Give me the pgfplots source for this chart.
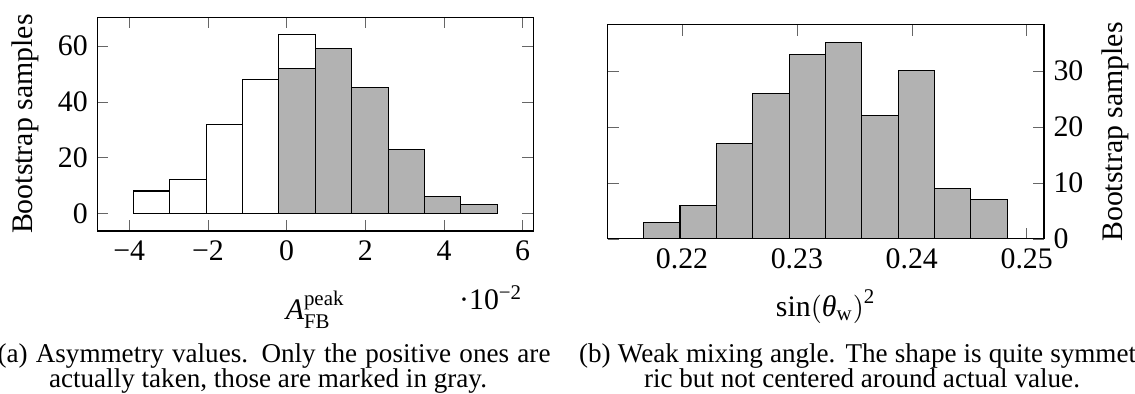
\documentclass[border=0pt]{standalone}
\usepackage{fontspec}
\setmainfont{Liberation Serif}[Scale=1.043]
\usepackage{pgfplots}
\pgfplotsset{compat=1.18}
\def\u{0.384615pt}
\pgfplotsset{
  every axis/.append style={
    font=\fontsize{11}{13}\selectfont,
    /pgf/number format/assume math mode=true,
    major tick style={black!60},
    axis line style={black},
  },
}
\begin{document}
\begin{tikzpicture}
\path[use as bounding box] (0pt,0pt) rectangle (436.54pt,151.54pt);
\begin{axis}[
  at={(37.42pt,62.69pt)}, anchor=south west,
  scale only axis, width=167.69pt, height=82.19pt,
  xmin=-4.813, xmax=6.27, ymin=-6.35, ymax=70.3,
  xtick={-4,-2,0,2,4,6},
  xticklabels={−4,−2,0,2,4,6},
  ytick={0,20,40,60},
  ylabel={Bootstrap samples},
  xlabel={$\textit{A}^{\mathrm{peak}}_{\mathrm{FB}}$},
  xlabel style={yshift=-4.6pt},
]
\addplot[ybar interval, fill=white, draw=black] coordinates {
(-3.896,8) (-2.971,12) (-2.046,32) (-1.121,48) (-0.196,64)
(0.729,59) (1.655,45) (2.580,23) (3.505,6) (4.430,3) (5.355,3)};
\addplot[ybar interval, fill=black!30, draw=black] coordinates {
(-0.196,52) (0.729,59) (1.655,45) (2.580,23) (3.505,6) (4.430,3) (5.355,3)};
\end{axis}
\node[anchor=base east, inner sep=0pt, font=\fontsize{11}{13}\selectfont] at (523*\u,84*\u) {·10\textsuperscript{−2}};
\begin{axis}[
  at={(233.73pt,59.62pt)}, anchor=south west,
  scale only axis, width=167.81pt, height=82.31pt,
  xmin=0.213534, xmax=0.251506, ymin=0, ymax=38.2,
  xtick={0.22,0.23,0.24,0.25},
  ytick={0,10,20,30},
  yticklabel pos=right,
  scaled x ticks=false,
  xticklabel style={/pgf/number format/fixed, /pgf/number format/fixed zerofill, /pgf/number format/precision=2},
  ylabel={Bootstrap samples},
  xlabel={$\mathrm{sin(}\textit{θ}_{\mathrm{w}}\mathrm{)}^{\mathrm{2}}$},
  xlabel style={yshift=-0.8pt},
]
\addplot[ybar interval, fill=black!30, draw=black] coordinates {
(0.21666,3) (0.219825,6) (0.22299,17) (0.226155,26) (0.22932,33)
(0.232485,35) (0.23565,22) (0.238815,30) (0.24198,9) (0.245145,7) (0.24831,7)};
\end{axis}
\node[anchor=base west, inner sep=0pt] at (-3*\u,31*\u) {\makebox[212.69pt][s]{(a) Asymmetry values. Only the positive ones are}};
\node[anchor=base, inner sep=0pt] at (268*\u,6.3*\u) {actually taken, those are marked in gray.};
\node[anchor=base west, inner sep=0pt] at (578.6*\u,31*\u) {\makebox[217.69pt][s]{(b) Weak mixing angle. The shape is quite symmet-}};
\node[anchor=base, inner sep=0pt] at (862*\u,6.3*\u) {ric but not centered around actual value.};
\end{tikzpicture}
\end{document}
